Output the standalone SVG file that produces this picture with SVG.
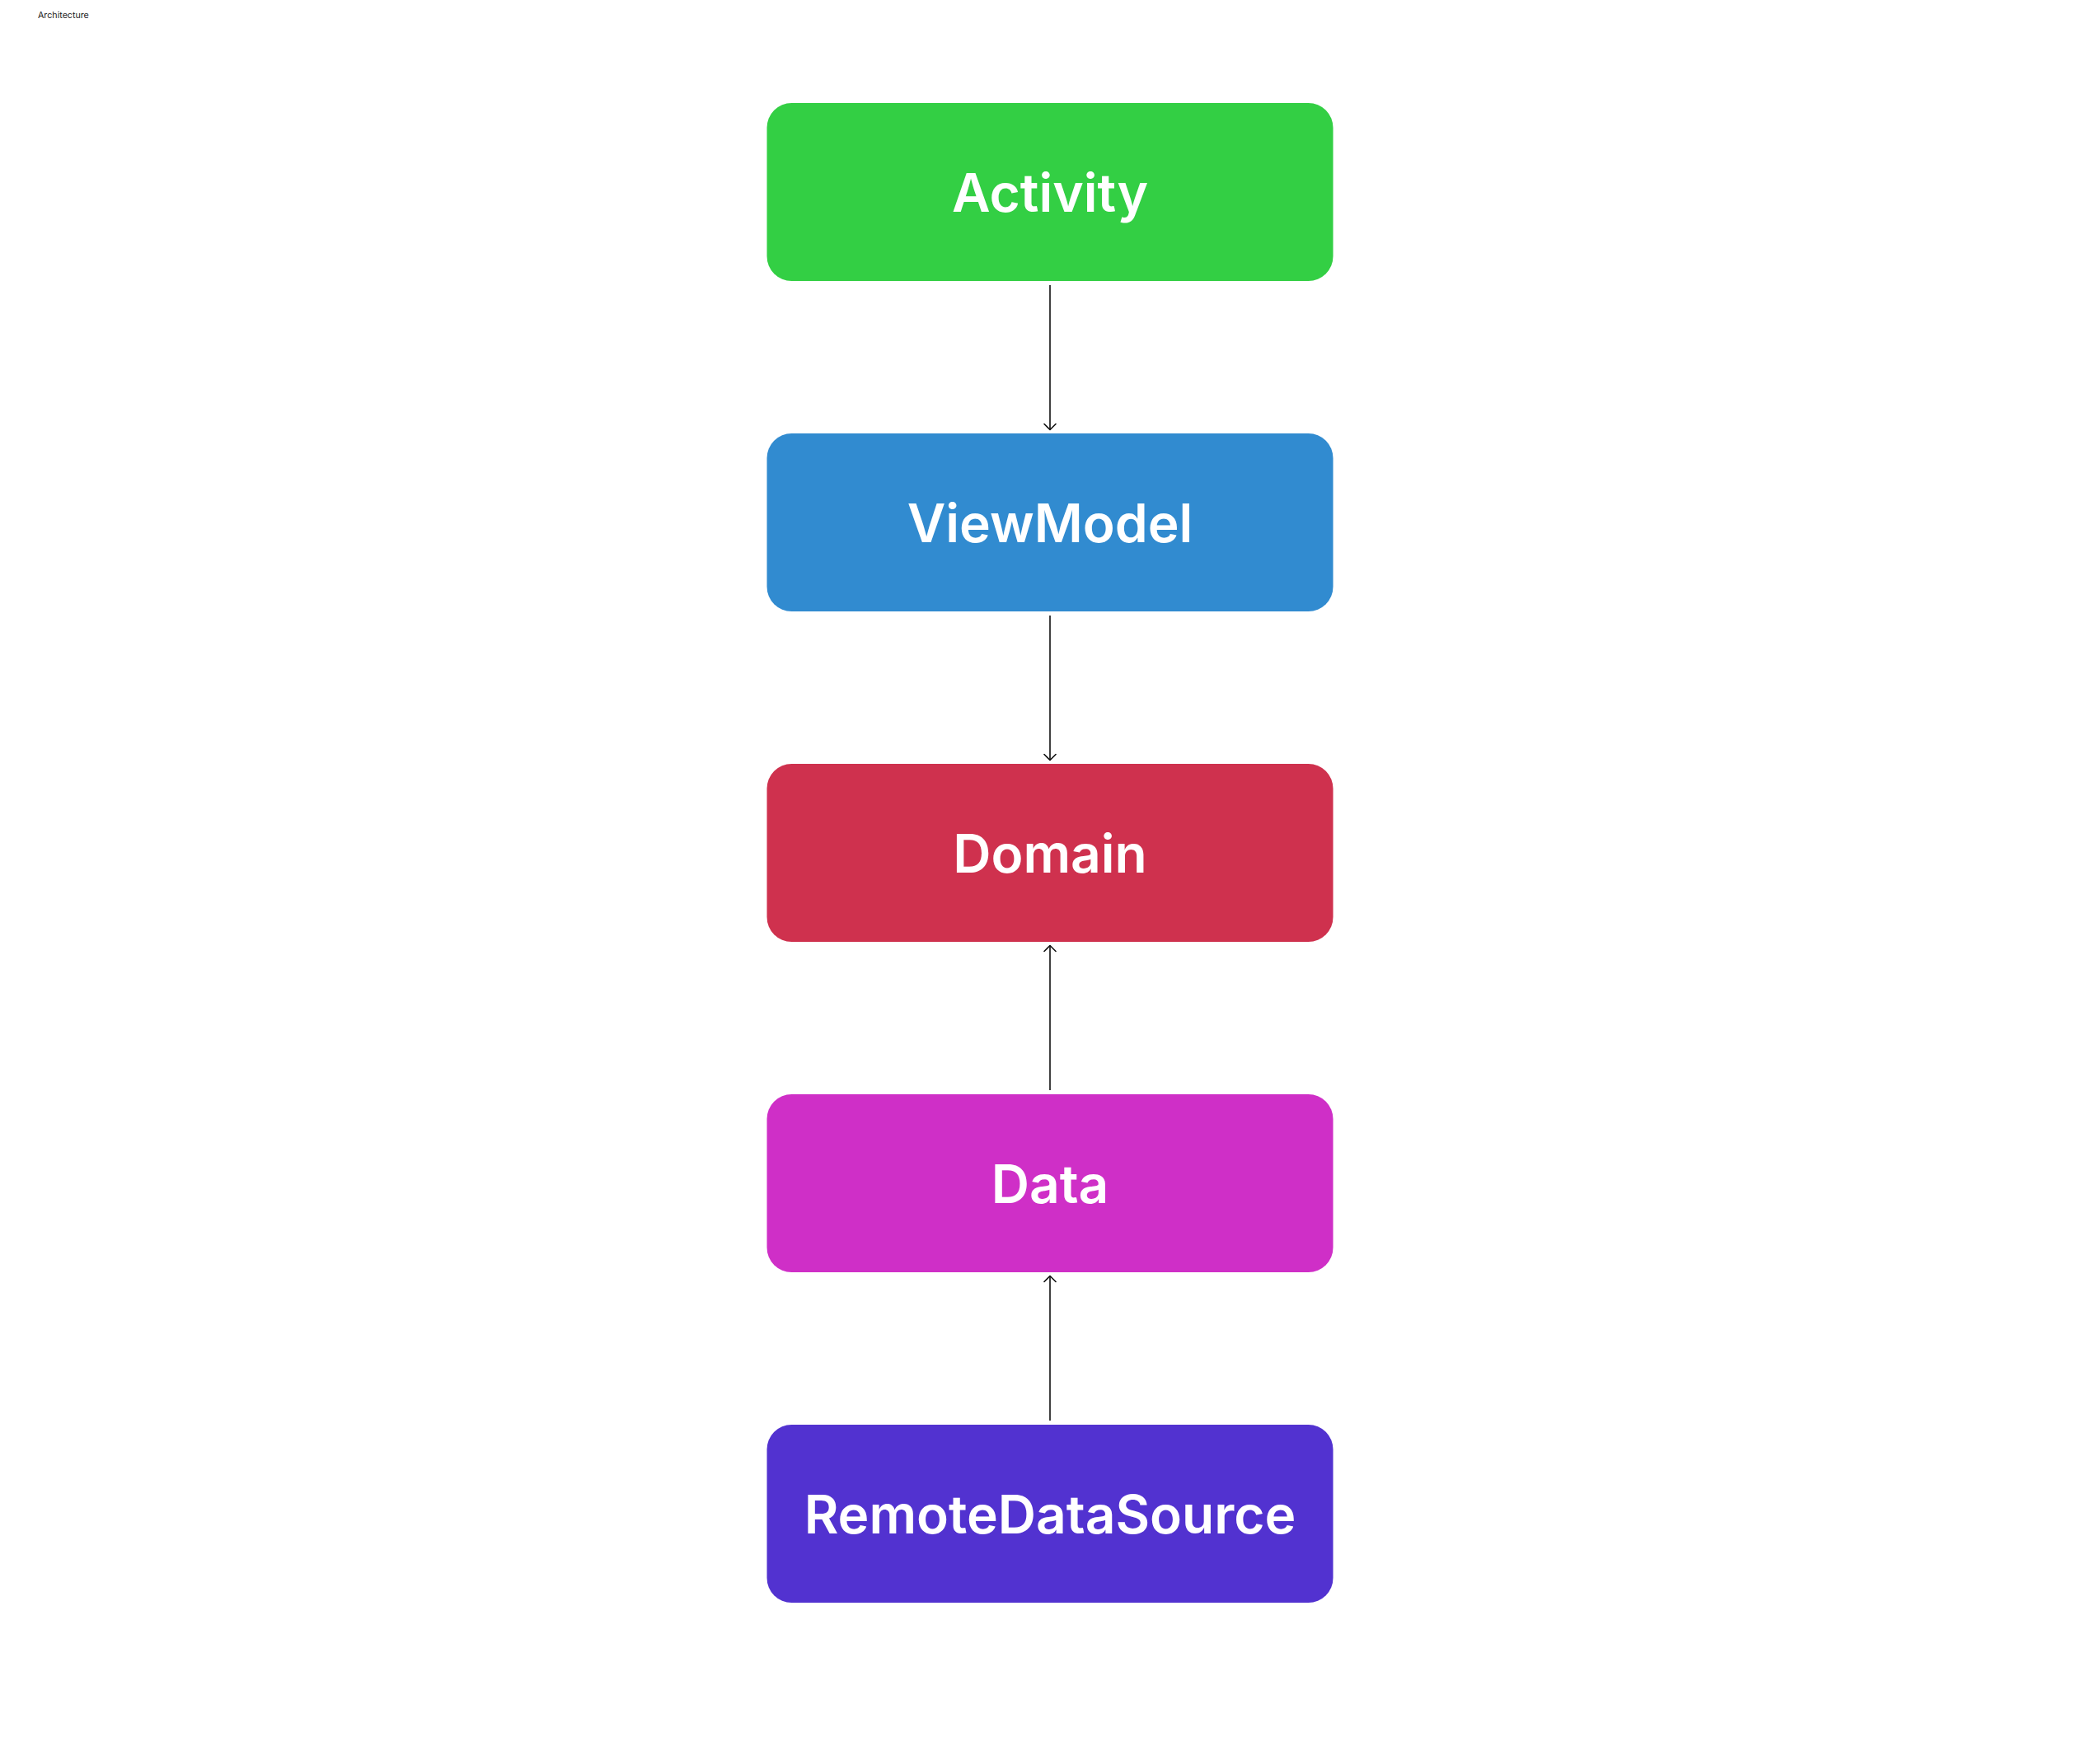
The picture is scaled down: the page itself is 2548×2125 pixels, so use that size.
<svg xmlns="http://www.w3.org/2000/svg" width="2548" height="2125" viewBox="0 0 2548 2125">
<style>
.node-text{font-family:Inter,"Liberation Sans",sans-serif;font-weight:600;font-size:64px;fill:#ffffff;text-anchor:middle;dominant-baseline:central}
.title{font-family:Inter,"Liberation Sans",sans-serif;font-size:10.7px;fill:#222222}
.conn{stroke:#111111;stroke-width:1.6;fill:none}
.head{stroke:#111111;stroke-width:1.6;fill:none;stroke-linecap:round;stroke-linejoin:round}
</style>
<rect width="2548" height="2125" fill="#ffffff"/>
<text class="title" x="46" y="21.5">Architecture</text>
<g id="node-activity">
<rect x="930.5" y="125" width="687" height="216" rx="30" ry="30" fill="#33CF44"/>
<text class="node-text" x="1274" y="233">Activity</text>
</g>
<g id="node-viewmodel">
<rect x="930.5" y="526" width="687" height="216" rx="30" ry="30" fill="#318BD0"/>
<text class="node-text" x="1274" y="634">ViewModel</text>
</g>
<g id="node-domain">
<rect x="930.5" y="927" width="687" height="216" rx="30" ry="30" fill="#CF314E"/>
<text class="node-text" x="1274" y="1035">Domain</text>
</g>
<g id="node-data">
<rect x="930.5" y="1328" width="687" height="216" rx="30" ry="30" fill="#CF2FC7"/>
<text class="node-text" x="1274" y="1436">Data</text>
</g>
<g id="node-remotedatasource">
<rect x="930.5" y="1729" width="687" height="216" rx="30" ry="30" fill="#5232D0"/>
<text class="node-text" x="1274" y="1837">RemoteDataSource</text>
</g>
<g id="connectors">
<line class="conn" x1="1274" y1="346" x2="1274" y2="521.5"/>
<path class="head" d="M1267 514.5 L1274 521.5 L1281 514.5"/>
<line class="conn" x1="1274" y1="747" x2="1274" y2="922.5"/>
<path class="head" d="M1267 915.5 L1274 922.5 L1281 915.5"/>
<line class="conn" x1="1274" y1="1323" x2="1274" y2="1147.5"/>
<path class="head" d="M1267 1154.5 L1274 1147.5 L1281 1154.5"/>
<line class="conn" x1="1274" y1="1724" x2="1274" y2="1548.5"/>
<path class="head" d="M1267 1555.5 L1274 1548.5 L1281 1555.5"/>
</g>
</svg>
